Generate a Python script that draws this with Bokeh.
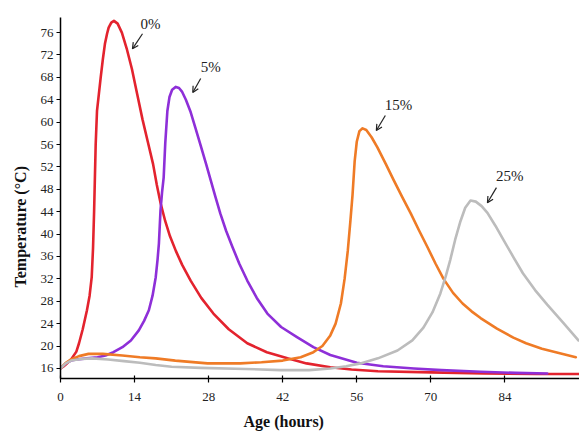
from bokeh.plotting import figure
from bokeh.models import Range1d, FixedTicker, Label, Arrow, OpenHead, Title
from bokeh.embed import file_html
from bokeh.resources import INLINE

# ---- data (age in hours, temperature in °C) ----
h_0 = [0, 0.5, 1, 2, 3, 3.5, 4.2, 5.0, 5.5, 5.9, 6.15, 6.35, 6.5, 6.65, 6.9, 7.25, 7.6, 8.0, 8.4,
       8.8, 9.1, 9.6, 10.1, 10.8, 11.6, 12.5, 13.5, 14.5, 15.5, 16.5, 17.5, 18.2, 18.9, 19.8, 20.7,
       21.8, 23.0, 24.6, 26.6, 28.9, 31.8, 35.3, 39.0, 42.9, 46.5, 51, 55, 60, 70, 80, 90, 98]
t_0 = [16.0, 16.3, 16.7, 17.6, 19.0, 20.5, 23.0, 26.4, 29.0, 32.3, 37.5, 44.0, 50.0, 56.0, 62.0,
       65.0, 68.0, 71.2, 74.0, 75.8, 76.9, 77.8, 78.1, 77.6, 76.0, 73.2, 69.5, 65.0, 60.5, 56.5,
       52.5, 48.8, 45.6, 42.3, 39.6, 37.0, 34.5, 31.7, 28.6, 25.8, 23.0, 20.5, 18.9, 17.8, 16.9,
       16.2, 15.8, 15.5, 15.3, 15.1, 15.0, 15.0]

h_5 = [0, 1, 2, 3, 5, 7, 8.5, 10, 11.7, 13.3, 14.8, 15.8, 16.7, 17.4, 18.0, 18.35, 18.6, 18.9,
       19.2, 19.5, 19.8, 20.2, 20.6, 21.1, 21.8, 22.4, 23.0, 23.7, 24.6, 25.5, 26.5, 27.5, 28.4,
       29.3, 30.2, 31.3, 32.5, 33.8, 35.3, 37.1, 39.1, 41.7, 44.7, 47.8, 51, 56, 61, 66.8, 72,
       79.4, 86, 92]
t_5 = [16.0, 16.9, 17.4, 17.6, 17.8, 18.0, 18.3, 18.9, 19.8, 21.0, 22.8, 24.5, 26.4, 29.0, 32.3,
       35.5, 38.3, 44.2, 47.5, 50.1, 56.2, 62.0, 64.5, 65.8, 66.3, 66.1, 65.4, 64.0, 61.8, 59.0,
       55.8, 52.6, 49.6, 46.6, 43.7, 40.6, 37.7, 34.7, 31.7, 28.6, 25.8, 23.4, 21.6, 19.8, 18.4,
       17.0, 16.4, 16.0, 15.7, 15.4, 15.2, 15.1]

h_15 = [0, 1, 2, 3.5, 5.3, 8, 11.7, 15, 18, 21.7, 27.8, 34, 38, 42, 45.4, 47.8, 49.5, 51, 52, 53,
        53.7, 54.3, 54.8, 55.2, 55.6, 56.0, 56.5, 57.1, 57.8, 58.8, 59.9, 61.5, 63, 64.6, 66.2,
        67.8, 69.4, 70.9, 72.4, 74.2, 76, 77.7, 79.4, 82.5, 85.6, 88, 91, 94, 97.4]
t_15 = [16.0, 17.0, 17.6, 18.2, 18.6, 18.6, 18.3, 18.0, 17.8, 17.4, 16.9, 16.9, 17.1, 17.4, 18.0,
        18.9, 20.0, 21.9, 24.0, 27.6, 32.0, 37.0, 42.4, 47.0, 53.0, 56.5, 58.4, 58.9, 58.6, 57.3,
        55.5, 52.5, 49.6, 46.6, 43.7, 40.6, 37.6, 34.7, 32.0, 29.5, 27.6, 26.2, 25.0, 23.1, 21.5,
        20.5, 19.5, 18.8, 18.0]

h_25 = [0, 1, 2, 4, 6, 9, 12, 15, 18, 21, 26.5, 35, 41.6, 47, 51, 54, 56.7, 60, 63.7, 66.5, 68.6,
        70.3, 71.8, 72.8, 73.7, 74.6, 75.6, 76.5, 77.5, 78.5, 79.6, 80.7, 82.2, 83.7, 85.6, 87.4,
        89.7, 92, 95, 97.9]
t_25 = [16.0, 16.9, 17.4, 17.7, 17.8, 17.6, 17.3, 17.0, 16.6, 16.3, 16.1, 15.9, 15.7, 15.7, 16.0,
        16.4, 16.9, 17.8, 19.2, 21.0, 23.3, 26.0, 29.4, 32.4, 35.5, 39.0, 42.3, 44.7, 46.0, 45.8,
        45.0, 43.8, 41.5, 39.0, 35.9, 33.0, 30.0, 27.4, 24.2, 21.0]

series_labels = ["0%", "5%", "15%", "25%"]
series_colors = ["#e3232e", "#8e2fd8", "#ef7b26", "#bcbcbc"]

x_ticks = [0, 14, 28, 42, 56, 70, 84]
y_ticks = [16, 20, 24, 28, 32, 36, 40, 44, 48, 52, 56, 60, 64, 68, 72, 76]

x_title = "Age (hours)"
y_title = "Temperature (°C)"

# annotation placement (label position, arrow start, arrow end) in data units
label_pos = [(17.0, 77.6), (28.4, 69.8), (63.9, 63.1), (84.9, 50.3)]
arrow_from = [(15.5, 75.8), (26.5, 67.8), (61.4, 61.2), (82.4, 48.3)]
arrow_to = [(13.6, 73.1), (25.0, 65.3), (59.7, 58.5), (80.7, 45.6)]

FONT = "Liberation Serif"

p = figure(width=579, height=436, output_backend="svg", toolbar_location=None,
           x_range=Range1d(0, 98.1), y_range=Range1d(14.2, 78.7),
           min_border_left=60, min_border_right=0, min_border_top=17, min_border_bottom=58)
p.outline_line_color = None
p.xgrid.visible = False
p.ygrid.visible = False
p.background_fill_color = "white"
p.border_fill_color = "white"

for hx, ty, c in zip([h_0, h_5, h_15, h_25], [t_0, t_5, t_15, t_25], series_colors):
    p.line(hx, ty, line_color=c, line_width=2.6, line_join="round", line_cap="round")

# axes
p.xaxis.ticker = FixedTicker(ticks=x_ticks)
p.yaxis.ticker = FixedTicker(ticks=y_ticks)
for ax in (p.xaxis[0], p.yaxis[0]):
    ax.axis_line_color = "black"
    ax.axis_line_width = 1.5
    ax.major_tick_line_color = "black"
    ax.major_tick_line_width = 1.2
    ax.minor_tick_line_color = None
    ax.major_label_text_font = FONT
    ax.major_label_text_font_size = "13px"
    ax.major_label_text_color = "#222222"

p.xaxis.major_tick_in = 3
p.xaxis.major_tick_out = 4
p.xaxis.major_label_standoff = 10
p.yaxis.major_tick_in = 0
p.yaxis.major_tick_out = 4
p.yaxis.major_label_standoff = 3

# axis titles (placed off-centre as in the reference)
p.add_layout(Title(text=x_title, align="left", offset=183, text_font=FONT,
                   text_font_style="bold", text_font_size="16px", text_color="#111111",
                   standoff=14), "below")
p.add_layout(Title(text=y_title, align="left", offset=91, text_font=FONT,
                   text_font_style="bold", text_font_size="16px", text_color="#111111",
                   standoff=18), "left")

for lab, (lx, ly), (ax0, ay0), (ax1, ay1) in zip(series_labels, label_pos, arrow_from, arrow_to):
    p.add_layout(Label(x=lx, y=ly, text=lab, text_font=FONT, text_font_size="15px",
                       text_align="center", text_baseline="middle", text_color="#222222"))
    p.add_layout(Arrow(x_start=ax0, y_start=ay0, x_end=ax1, y_end=ay1,
                       line_color="#222222", line_width=1.2,
                       end=OpenHead(size=6, line_color="#222222", line_width=1.2)))

open("out.html", "w").write(file_html(p, INLINE))
